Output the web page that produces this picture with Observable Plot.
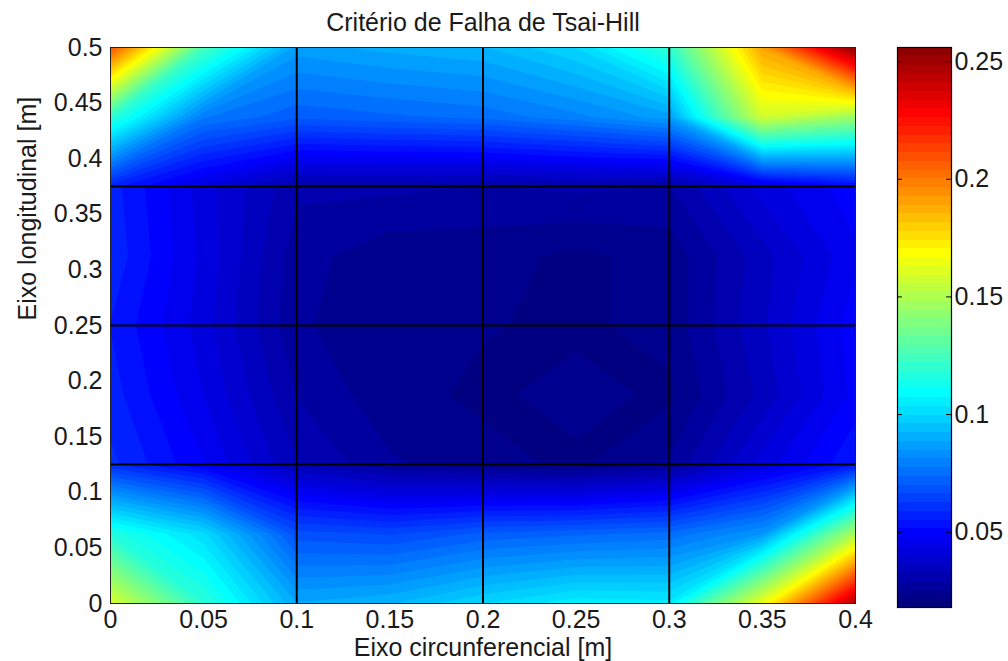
<!DOCTYPE html>
<html><head><meta charset="utf-8">
<script src="https://cdn.jsdelivr.net/npm/d3@7"></script>
<script src="https://cdn.jsdelivr.net/npm/@observablehq/plot@0.6"></script>
<style>
body{margin:0;background:#fff;}
#wrap{position:relative;width:1008px;height:661px;font-family:"Liberation Sans",Arial,sans-serif;}
#wrap svg{position:absolute;overflow:visible;}
</style></head><body><div id="wrap"></div>
<script>
// ---- text ----
const titulo = "Critério de Falha de Tsai-Hill";
const rotuloX = "Eixo circunferencial [m]";
const rotuloY = "Eixo longitudinal [m]";

// ---- grid nodes ----
const xNos = [0, 0.05, 0.1, 0.15, 0.2, 0.25, 0.3, 0.35, 0.4];
const yNos = [0, 0.0625, 0.125, 0.1875, 0.25, 0.3125, 0.375, 0.4375, 0.5];

// ---- Tsai-Hill values per row (x = 0 ... 0.4) ----
const th_y0500 = [0.210, 0.125, 0.087, 0.090, 0.092, 0.100, 0.120, 0.190, 0.256];
const th_y0438 = [0.120, 0.078, 0.071, 0.073, 0.075, 0.080, 0.087, 0.158, 0.145];
const th_y0375 = [0.057, 0.042, 0.030, 0.030, 0.029, 0.030, 0.029, 0.042, 0.050];
const th_y0313 = [0.058, 0.043, 0.027, 0.023, 0.023, 0.021, 0.023, 0.035, 0.047];
const th_y0250 = [0.055, 0.042, 0.026, 0.023, 0.022, 0.021, 0.023, 0.036, 0.050];
const th_y0188 = [0.057, 0.044, 0.029, 0.023, 0.021, 0.023, 0.021, 0.034, 0.049];
const th_y0125 = [0.060, 0.048, 0.033, 0.026, 0.023, 0.021, 0.026, 0.042, 0.055];
const th_y0063 = [0.117, 0.101, 0.068, 0.066, 0.071, 0.073, 0.075, 0.085, 0.150];
const th_y0000 = [0.160, 0.119, 0.089, 0.092, 0.100, 0.106, 0.105, 0.165, 0.248];

// ---- axes / colorbar ----
const ticksX = [0, 0.05, 0.1, 0.15, 0.2, 0.25, 0.3, 0.35, 0.4];
const ticksY = [0, 0.05, 0.1, 0.15, 0.2, 0.25, 0.3, 0.35, 0.4, 0.45, 0.5];
const ticksCor = [0.05, 0.1, 0.15, 0.2, 0.25];
const gradeX = [0.1, 0.2, 0.3];
const gradeY = [0.125, 0.25, 0.375];
const corMin = 0.018, corMax = 0.256, nCores = 64;

// MATLAB-like jet colormap
function jet(t) {
  const c = v => Math.max(0, Math.min(1, v));
  const r = c(1.5 - Math.abs(4 * t - 3)), g = c(1.5 - Math.abs(4 * t - 2)), b = c(1.5 - Math.abs(4 * t - 1));
  return `rgb(${Math.round(r * 255)},${Math.round(g * 255)},${Math.round(b * 255)})`;
}

const linhas = [th_y0000, th_y0063, th_y0125, th_y0188, th_y0250, th_y0313, th_y0375, th_y0438, th_y0500];
const grade = linhas.flat(); // row 0 = y 0 (bottom)
const dx = xNos[1] - xNos[0], dy = yNos[1] - yNos[0];
const passo = (corMax - corMin) / nCores;
const niveis = d3.range(nCores).map(i => corMin + i * passo);

const corScale = {type: "linear", domain: [corMin, corMax], interpolate: jet};
const font = '"Liberation Sans", Arial, sans-serif';
const tinta = "#1a1a1a";

const main = Plot.plot({
  width: 1008, height: 661,
  marginLeft: 110, marginRight: 153, marginTop: 47, marginBottom: 58,
  style: {fontFamily: font, fontSize: "25px", background: "transparent", color: tinta},
  x: {domain: [0, 0.4]},
  y: {domain: [0, 0.5]},
  color: corScale,
  marks: [
    Plot.frame({fill: jet(0)}),
    Plot.contour(grade, {
      width: xNos.length, height: yNos.length,
      x1: xNos[0] - dx / 2, x2: xNos[xNos.length - 1] + dx / 2,
      y1: yNos[0] - dy / 2, y2: yNos[yNos.length - 1] + dy / 2,
      fill: Plot.identity, thresholds: niveis, clip: true
    }),
    Plot.ruleX(gradeX, {stroke: "black", strokeWidth: 2}),
    Plot.ruleY(gradeY, {stroke: "black", strokeWidth: 2}),
    Plot.frame({stroke: "#222", strokeWidth: 1}),
    Plot.axisX({ticks: ticksX, tickFormat: d => String(d), tickSize: 0, tickPadding: 7, fontSize: 25, label: null}),
    Plot.axisY({ticks: ticksY, tickFormat: d => String(d), tickSize: 0, tickPadding: 8, fontSize: 25, label: null}),
    Plot.text([titulo], {frameAnchor: "top", dy: -25, fontSize: 25, lineAnchor: "middle"}),
    Plot.text([rotuloX], {frameAnchor: "bottom", dy: 44, fontSize: 25, lineAnchor: "middle"}),
    Plot.text([rotuloY], {frameAnchor: "left", dx: -83, dy: -5, rotate: -90, fontSize: 25, lineAnchor: "middle"})
  ]
});
main.style.left = "0px"; main.style.top = "0px";
document.getElementById("wrap").appendChild(main);

const barra = Plot.plot({
  width: 112, height: 562,
  marginLeft: 1, marginRight: 57, marginTop: 1, marginBottom: 1,
  style: {fontFamily: font, fontSize: "25px", background: "transparent", color: tinta},
  x: {domain: [0, 1], axis: null},
  y: {domain: [corMin, corMax]},
  color: corScale,
  marks: [
    Plot.rect(niveis, {x1: 0, x2: 1, y1: d => d, y2: d => d + passo, fill: d => d, shapeRendering: "crispEdges"}),
    Plot.ruleY(ticksCor, {x1: 0, x2: 0.09, stroke: "black"}),
    Plot.ruleY(ticksCor, {x1: 0.91, x2: 1, stroke: "black"}),
    Plot.frame({stroke: "black", strokeWidth: 1.2}),
    Plot.axisY({anchor: "right", ticks: ticksCor, tickFormat: d => String(d), tickSize: 0, tickPadding: 3, fontSize: 25, label: null})
  ]
});
barra.style.left = "896px"; barra.style.top = "46px";
document.getElementById("wrap").appendChild(barra);
</script></body></html>
